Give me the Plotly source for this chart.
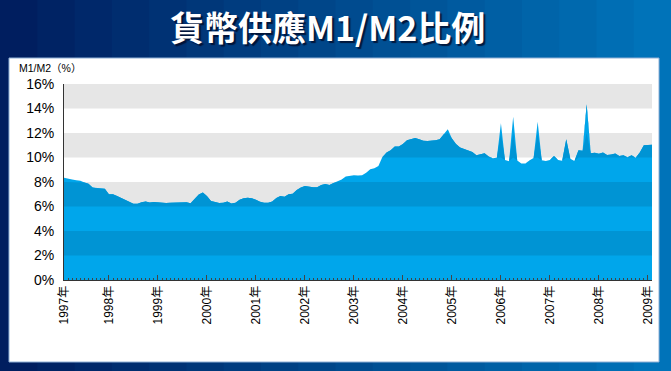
import plotly.graph_objects as go

# ---- data -------------------------------------------------------------
months = list(range(1, 146))   # month index, 1 = start of 1997
ratio = [
    8.35, 8.25, 8.2, 8.15, 8.1, 7.95, 7.85, 7.55, 7.5, 7.5, 7.45,            # 1997
    7.0, 7.0, 6.85, 6.7, 6.53, 6.35, 6.23, 6.23, 6.35, 6.4, 6.32, 6.37,      # 1998
    6.34, 6.26, 6.28, 6.3, 6.31, 6.26, 6.3, 6.34, 6.26, 6.6, 6.98, 7.15,     # 1999
    6.85, 6.45, 6.35, 6.28, 6.3, 6.4, 6.25, 6.3, 6.55, 6.68, 6.72, 6.68,     # 2000
    6.55, 6.38, 6.31, 6.31, 6.4, 6.7, 6.86, 6.8, 7.0, 7.05, 7.35, 7.55,      # 2001
    7.67, 7.6, 7.57, 7.57, 7.75, 7.84, 7.76, 7.92, 8.05, 8.2, 8.45, 8.52,    # 2002
    8.55, 8.53, 8.55, 8.75, 9.04, 9.12, 9.3, 10.05, 10.4, 10.6, 10.9, 10.9,  # 2003
    11.1, 11.4, 11.5, 11.6, 11.5, 11.37, 11.35, 11.36, 11.4, 11.5, 11.9, 12.3,  # 2004
    11.55, 11.1, 10.82, 10.7, 10.6, 10.45, 10.18, 10.25, 10.35, 10.08, 9.93, 9.98,  # 2005
    12.8, 9.8, 9.69, 13.33, 9.75, 9.52, 9.52, 9.75, 9.95, 12.92, 9.78, 9.72,  # 2006
    9.8, 10.12, 9.8, 9.74, 11.49, 9.9, 9.71, 10.6, 10.55, 14.34, 10.34, 10.38,  # 2007
    10.3, 10.4, 10.2, 10.25, 10.32, 10.12, 10.18, 10.02, 10.18, 9.98, 10.4, 11.0,  # 2008
    11.0, 11.04,                                                              # 2009
]
tick_vals = [1, 12, 24, 36, 48, 60, 72, 84, 96, 108, 120, 132, 144]
tick_text = ["1997年", "1998年", "1999年", "2000年", "2001年", "2002年", "2003年",
             "2004年", "2005年", "2006年", "2007年", "2008年", "2009年"]
y_ticks = [0, 2, 4, 6, 8, 10, 12, 14, 16]
y_text = ["0%", "2%", "4%", "6%", "8%", "10%", "12%", "14%", "16%"]
dark_bands = [2, 6, 10, 14]   # lower edges of the shaded 2% bands

# ---- layout geometry (pixels) -----------------------------------------
W, H = 671, 371
L, R, T, B = 64, 652, 84, 280


def px2x(px):
    return (px - L) / (R - L)


def py2y(py):
    return (B - py) / (B - T)


LIGHT = "#00A6EB"
DARK = "#0094D4"
GRAY = "#E6E6E6"

fig = go.Figure()

# full area in light blue
fig.add_trace(go.Scatter(
    x=months, y=ratio, mode="lines", fill="tozeroy", fillcolor=LIGHT,
    line=dict(width=0), hoverinfo="skip", showlegend=False,
))
# darker blue where the area crosses the shaded bands
for lo in dark_bands:
    hi = lo + 2
    fig.add_trace(go.Scatter(
        x=months, y=[min(v, lo) for v in ratio], mode="lines",
        line=dict(width=0), hoverinfo="skip", showlegend=False,
    ))
    fig.add_trace(go.Scatter(
        x=months, y=[min(v, hi) for v in ratio], mode="lines",
        fill="tonexty", fillcolor=DARK,
        line=dict(width=0), hoverinfo="skip", showlegend=False,
    ))

shapes = []
# background gradient stripes
n = 18
c0 = (0, 30, 95)
c1 = (0, 115, 185)
for i in range(n):
    t = i / (n - 1)
    col = "rgb(%d,%d,%d)" % tuple(round(a + (b - a) * t) for a, b in zip(c0, c1))
    shapes.append(dict(type="rect", xref="paper", yref="paper", layer="below",
                       x0=px2x(W * i / n), x1=px2x(W * (i + 1) / n + 1),
                       y0=py2y(H + 2), y1=py2y(-2), line=dict(width=0), fillcolor=col))
# white panel
shapes.append(dict(type="rect", xref="paper", yref="paper", layer="below",
                   x0=px2x(9), x1=px2x(659), y0=py2y(362), y1=py2y(58),
                   line=dict(width=1, color="#8FB0D6"), fillcolor="white"))
# gray bands of plot area
for lo in dark_bands:
    shapes.append(dict(type="rect", xref="x", yref="y", layer="below",
                       x0=1, x1=145, y0=lo, y1=lo + 2,
                       line=dict(width=0), fillcolor=GRAY))

title = "貨幣供應M1/M2比例"
annotations = [
    dict(text=title, xref="paper", yref="paper", x=px2x(327), y=py2y(27),
         xanchor="center", yanchor="middle", showarrow=False,
         font=dict(family="Noto Sans CJK TC", size=34, color="white", weight="bold",
                   shadow="2px 2px 1px rgba(0,10,40,0.8)")),
    dict(text="M1/M2（%）", xref="paper", yref="paper", x=px2x(17), y=py2y(68),
         xanchor="left", yanchor="middle", showarrow=False,
         font=dict(family="Liberation Sans, Noto Sans CJK TC", size=10.5, color="black")),
]

fig.update_layout(
    width=W, height=H,
    margin=dict(l=L, r=W - R, t=T, b=H - B, pad=0),
    paper_bgcolor="rgb(0,60,130)",
    plot_bgcolor="white",
    shapes=shapes,
    annotations=annotations,
    showlegend=False,
    xaxis=dict(
        range=[1, 145], showgrid=False, zeroline=False,
        tickmode="array", tickvals=tick_vals, ticktext=tick_text,
        tickangle=-90, ticks="inside", ticklen=5, tickcolor="#444", tickwidth=1,
        showline=True, linecolor="#333", linewidth=1,
        tickfont=dict(family="Liberation Sans, Noto Sans CJK TC", size=12, color="black"),
        minor=dict(tick0=1, dtick=1, ticks="inside", ticklen=2, tickcolor="#444"),
        layer="above traces",
    ),
    yaxis=dict(
        range=[0, 16], showgrid=False, zeroline=False,
        tickmode="array", tickvals=y_ticks, ticktext=y_text,
        ticks="", showline=True, linecolor="#333", linewidth=1,
        tickfont=dict(family="Liberation Sans, Arial", size=14, color="black"),
        ticklabelstandoff=6,
    ),
)

fig.write_html("out.html", post_script="document.body.style.margin='0';",
               config={"displayModeBar": False})
